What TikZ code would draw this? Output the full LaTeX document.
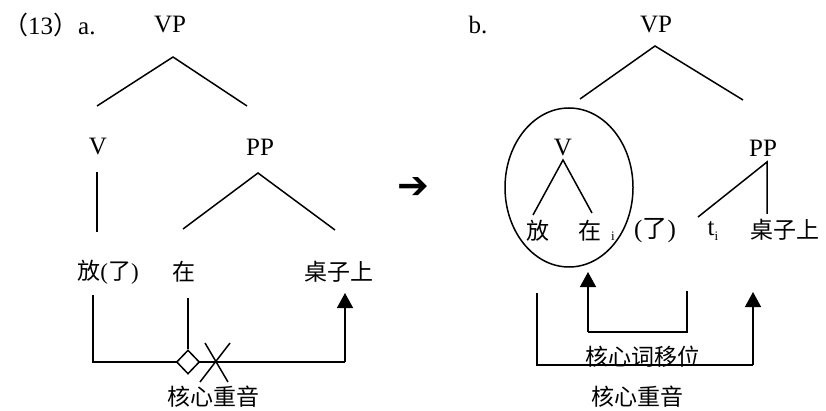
\documentclass[tikz,border=0pt]{standalone}
\usepackage{fontspec}
\setmainfont{Liberation Serif}
\newfontfamily\cjk{Noto Sans CJK SC}
\newfontfamily\dejavu{DejaVu Sans}
\usetikzlibrary{arrows.meta,shapes.geometric}
\tikzset{
  lbl/.style={inner sep=0pt, font=\fontsize{25}{28}\selectfont},
  cn/.style={inner sep=0pt, font=\fontsize{23}{28}\selectfont\cjk},
  ln/.style={line width=1.5pt},
  arr/.style={line width=1.5pt, -{Triangle[length=15pt,width=16pt]}},
}
\newcommand{\sbi}{{\fontsize{13}{13}\selectfont\raisebox{-5pt}{i}}}
\begin{document}
\begin{tikzpicture}[x=1pt,y=-1pt]
\useasboundingbox (0,0) rectangle (826,411);
% ---- (a) ----
\node[lbl, anchor=west] (num) at (3,25) {{\cjk（}13{\cjk）}a.};
\node[lbl] (VPa) at (170,25) {VP};
\coordinate (VPaT) at (173,57);
\coordinate (VPaL) at (97,106);
\coordinate (VPaR) at (247,106);
\draw[ln] (VPaL) -- (VPaT) -- (VPaR);
\node[lbl] (Va) at (98,147) {V};
\node[lbl] (PPa) at (260,147) {PP};
\coordinate (VaB) at (97,172);
\coordinate (VaE) at (97,232);
\draw[ln] (VaB) -- (VaE);
\coordinate (PPaT) at (258,173);
\coordinate (PPaL) at (183,229);
\coordinate (PPaR) at (335,230);
\draw[ln] (PPaL) -- (PPaT) -- (PPaR);
\node[cn] (fang) at (108,272) {放{\rmfamily(}了{\rmfamily)}};
\node[cn] (zai) at (184,272) {在};
\node[cn] (zhuo) at (339,272) {桌子上};
\node[cn] (hxa) at (213,397) {核心重音};
\coordinate (a1) at (93,295);
\coordinate (a2) at (93,362);
\coordinate (a3) at (345,362);
\coordinate (a4) at (345,293);
\draw[ln] (a1) -- (a2) -- (a3);
\draw[arr] (a3) -- (a4);
\node[diamond, draw, line width=1.5pt, fill=white, minimum width=23pt, minimum height=24pt, inner sep=0pt] (dia) at (188,362) {};
\coordinate (zaiB) at (188,298);
\draw[ln] (zaiB) -- (dia.north);
\coordinate (x1) at (205,343);
\coordinate (x2) at (228,382);
\coordinate (x3) at (230,343);
\coordinate (x4) at (200,382);
\draw[ln] (x1) -- (x2);
\draw[ln] (x3) -- (x4);
% ---- arrow ----
\node[inner sep=0pt, font=\fontsize{38}{40}\selectfont\dejavu] (mid) at (413,188) {➔};
% ---- (b) ----
\node[lbl] (b) at (478,25) {b.};
\node[lbl] (VPb) at (656,25) {VP};
\coordinate (VPbT) at (655,46);
\coordinate (VPbL) at (580,99);
\coordinate (VPbR) at (743,100);
\draw[ln] (VPbL) -- (VPbT) -- (VPbR);
\node[ellipse, draw, line width=1.5pt, minimum width=128pt, minimum height=159pt, inner sep=0pt] (ell) at (569,187.5) {};
\node[lbl] (Vb) at (563,148) {V};
\coordinate (VbB) at (563,160);
\coordinate (VbL) at (533,215);
\coordinate (VbR) at (592,213);
\draw[ln] (VbL) -- (VbB) -- (VbR);
\node[cn] (fangb) at (538,231) {放};
\node[cn] (zaib) at (590,231) {在};
\node[lbl] (subi) at (613,236) {\sbi};
\node[lbl] (le) at (655,231) {(\cjk 了\rmfamily)};
\node[lbl] (ti) at (713,231) {t\sbi};
\node[cn] (zhuob) at (785,230) {桌子上};
\node[lbl] (PPb) at (763,148) {PP};
\coordinate (PPbT) at (767,162);
\coordinate (PPbL) at (698,217);
\coordinate (PPbB) at (767,214);
\draw[ln] (PPbL) -- (PPbT) -- (PPbB);
\coordinate (b1) at (537,293);
\coordinate (b2) at (537,365);
\coordinate (b3) at (753,365);
\coordinate (b4) at (753,292);
\draw[ln] (b1) -- (b2) -- (b3);
\draw[arr] (b3) -- (b4);
\coordinate (c1) at (687,291);
\coordinate (c2) at (687,332);
\coordinate (c3) at (588,332);
\coordinate (c4) at (588,272);
\draw[ln] (c1) -- (c2) -- (c3);
\draw[arr] (c3) -- (c4);
\node[cn] (move) at (643,357) {核心词移位};
\node[cn] (hxb) at (637,397) {核心重音};
\end{tikzpicture}
\end{document}
